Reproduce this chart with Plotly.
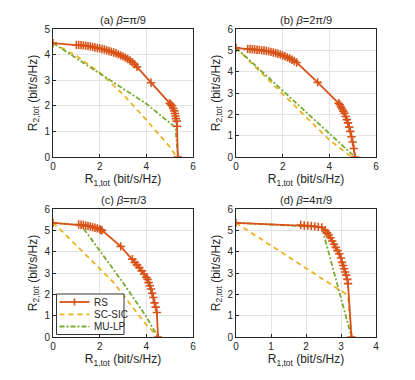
import plotly.graph_objects as go

# ---- data ----
titles = ["(a) <i>β</i>=π/9", "(b) <i>β</i>=2π/9", "(c) <i>β</i>=π/3", "(d) <i>β</i>=4π/9"]
x_max = [6, 6, 6, 4]
y_max = [5, 6, 6, 6]
legend_names = ["RS", "SC-SIC", "MU-LP"]

rs_x_a = [0, 1.0, 1.1, 1.2, 1.3, 1.4, 1.5, 1.6, 1.7, 1.8, 1.9, 2.0, 2.1, 2.2, 2.3, 2.4, 2.5, 2.6, 2.7, 2.8,
          2.9, 3.0, 3.1, 3.2, 3.3, 3.4, 3.5, 3.6, 4.2, 5.0, 5.05, 5.1, 5.15, 5.2, 5.22, 5.25, 5.27, 5.3, 5.32, 5.35]
rs_y_a = [4.45, 4.38, 4.38, 4.37, 4.36, 4.35, 4.33, 4.32, 4.30, 4.28, 4.26, 4.24, 4.22, 4.20, 4.17, 4.14, 4.11,
          4.08, 4.05, 4.01, 3.97, 3.93, 3.88, 3.83, 3.77, 3.70, 3.62, 3.52, 2.9, 2.1, 2.05, 2.0, 1.9, 1.8, 1.7,
          1.6, 1.5, 1.4, 1.2, 0]
sc_x_a = [0, 1, 2, 3, 4, 5, 5.3]
sc_y_a = [4.45, 3.95, 3.3, 2.45, 1.45, 0.4, 0]
mu_x_a = [0, 2, 4, 5.25, 5.35]
mu_y_a = [4.45, 3.28, 2.08, 1.15, 0]

rs_x_b = [0, 0.5, 0.6, 0.7, 0.8, 0.9, 1.0, 1.1, 1.2, 1.3, 1.4, 1.5, 1.6, 1.7, 1.8, 1.9, 2.0, 2.1, 2.2, 2.3,
          2.4, 2.5, 2.6, 3.5, 4.4, 4.45, 4.5, 4.55, 4.6, 4.65, 4.7, 4.75, 4.8, 4.85, 4.9, 4.95, 5.0, 5.05, 5.1]
rs_y_b = [5.12, 5.07, 5.06, 5.05, 5.04, 5.03, 5.02, 5.0, 4.99, 4.97, 4.95, 4.93, 4.9, 4.87, 4.84, 4.8, 4.76,
          4.72, 4.67, 4.62, 4.56, 4.5, 4.43, 3.5, 2.52, 2.45, 2.35, 2.25, 2.15, 2.05, 1.9, 1.75, 1.6, 1.4, 1.2,
          0.95, 0.7, 0.4, 0]
sc_x_b = [0, 0.25, 2.0, 4.0, 4.9, 5.1]
sc_y_b = [5.12, 4.85, 2.92, 0.8, 0.05, 0]
mu_x_b = [0, 5.1]
mu_y_b = [5.12, 0]

rs_x_c = [0, 1.1, 1.2, 1.3, 1.4, 1.5, 1.6, 1.7, 1.8, 1.9, 2.0, 2.05, 2.1, 2.9, 3.4, 3.5, 3.6, 3.7, 3.8, 3.9,
          4.0, 4.05, 4.1, 4.15, 4.2, 4.25, 4.3, 4.35, 4.4, 4.45, 4.5]
rs_y_c = [5.35, 5.27, 5.26, 5.25, 5.23, 5.21, 5.18, 5.15, 5.12, 5.09, 5.05, 5.02, 5.0, 4.25, 3.65, 3.5, 3.38,
          3.25, 3.1, 2.95, 2.8, 2.7, 2.55, 2.4, 2.25, 2.05, 1.85, 1.6, 1.4, 1.15, 0]
sc_x_c = [0, 0.3, 1.5, 2.6, 3.9, 4.5]
sc_y_c = [5.35, 5.05, 3.75, 2.55, 0.7, 0]
mu_x_c = [0, 1.2, 2.0, 3.0, 4.0, 4.5]
mu_y_c = [5.35, 5.25, 4.05, 2.55, 0.95, 0]

rs_x_d = [0, 1.85, 1.95, 2.05, 2.15, 2.25, 2.35, 2.45, 2.55, 2.6, 2.65, 2.7, 2.75, 2.8, 2.85, 2.9, 2.95, 3.0,
          3.03, 3.06, 3.09, 3.12, 3.15, 3.18, 3.2, 3.3]
rs_y_d = [5.35, 5.25, 5.23, 5.22, 5.2, 5.18, 5.16, 5.14, 5.0, 4.88, 4.78, 4.65, 4.5, 4.35, 4.2, 4.05, 3.9, 3.7,
          3.5, 3.35, 3.2, 3.05, 2.9, 2.7, 2.5, 0]
sc_x_d = [0, 3.2, 3.3]
sc_y_d = [5.35, 1.95, 0]
mu_x_d = [0, 2.45, 3.3]
mu_y_d = [5.35, 5.15, 0]

rs = [(rs_x_a, rs_y_a), (rs_x_b, rs_y_b), (rs_x_c, rs_y_c), (rs_x_d, rs_y_d)]
sc = [(sc_x_a, sc_y_a), (sc_x_b, sc_y_b), (sc_x_c, sc_y_c), (sc_x_d, sc_y_d)]
mu = [(mu_x_a, mu_y_a), (mu_x_b, mu_y_b), (mu_x_c, mu_y_c), (mu_x_d, mu_y_d)]

RS_COL = "#D95319"
SC_COL = "#EDB120"
MU_COL = "#77AC30"
SC_DASH = "5px,4px"
MU_DASH = "5px,2px,2px,2px"

W, H = 415, 380
# panel pixel boxes (left, right, top, bottom)
boxes = [(53, 193, 29, 157), (236, 376, 29, 157), (53, 193, 209, 337), (236, 376, 209, 337)]

fig = go.Figure()
font = dict(family="Liberation Sans, Arial, sans-serif", size=10, color="#262626")

for i in range(4):
    xa = "x" if i == 0 else f"x{i+1}"
    ya = "y" if i == 0 else f"y{i+1}"
    fig.add_trace(go.Scatter(x=sc[i][0], y=sc[i][1], mode="lines", name="SC-SIC",
                             line=dict(color=SC_COL, width=1.8, dash=SC_DASH), xaxis=xa, yaxis=ya))
    fig.add_trace(go.Scatter(x=mu[i][0], y=mu[i][1], mode="lines", name="MU-LP",
                             line=dict(color=MU_COL, width=1.8, dash=MU_DASH), xaxis=xa, yaxis=ya))
    fig.add_trace(go.Scatter(x=rs[i][0], y=rs[i][1], mode="lines+markers", name="RS",
                             line=dict(color=RS_COL, width=1.8),
                             marker=dict(symbol="cross-thin", size=6, line=dict(color=RS_COL, width=1.6)),
                             xaxis=xa, yaxis=ya))

    l, r, t, b = boxes[i]
    ax_common = dict(showgrid=True, gridcolor="#e3e3e3", gridwidth=1, zeroline=False,
                     showline=True, linecolor="#262626", linewidth=1, mirror=True, automargin=False,
                     ticks="inside", ticklen=3, tickcolor="#262626", tickfont=font)
    fig.layout[f"xaxis{'' if i == 0 else i+1}"] = dict(
        ax_common, domain=[l / W, r / W], anchor=ya, range=[0, x_max[i]], dtick=2 if x_max[i] == 6 else 1,
        title=dict(text="R<sub>1,tot</sub> (bit/s/Hz)", font=dict(font, size=12), standoff=2))
    fig.layout[f"yaxis{'' if i == 0 else i+1}"] = dict(
        ax_common, domain=[1 - b / H, 1 - t / H], anchor=xa, range=[0, y_max[i]], dtick=1,
        title=dict(text="R<sub>2,tot</sub> (bit/s/Hz)", font=dict(font, size=12), standoff=4))
    fig.add_annotation(text=titles[i], xref="paper", yref="paper", x=(l + r) / 2 / W, y=1 - t / H,
                       xanchor="center", yanchor="bottom", yshift=1, showarrow=False,
                       font=dict(font, size=11))

# legend box drawn inside panel (c), MATLAB style
px = lambda v: v / W
py = lambda v: 1 - v / H
fig.add_shape(type="rect", xref="paper", yref="paper", x0=px(56.5), x1=px(124), y0=py(294), y1=py(334.5),
              fillcolor="white", line=dict(color="#333333", width=1), layer="above")
leg_y = [302, 314.3, 326.5]
leg_style = [(RS_COL, "solid"), (SC_COL, SC_DASH), (MU_COL, MU_DASH)]
for name, yy, (col, dash) in zip(legend_names, leg_y, leg_style):
    fig.add_shape(type="line", xref="paper", yref="paper", x0=px(59.5), x1=px(89.5), y0=py(yy), y1=py(yy),
                  line=dict(color=col, width=1.8, dash=dash), layer="above")
    fig.add_annotation(text=name, xref="paper", yref="paper", x=px(91.5), y=py(yy), xanchor="left",
                       yanchor="middle", showarrow=False, font=dict(font, size=10))
# the '+' marker of the RS entry
fig.add_shape(type="line", xref="paper", yref="paper", x0=px(74.5), x1=px(74.5), y0=py(298.5), y1=py(305.5),
              line=dict(color=RS_COL, width=1.6), layer="above")

fig.update_layout(
    width=W, height=H, margin=dict(l=0, r=0, t=0, b=0), showlegend=False,
    paper_bgcolor="white", plot_bgcolor="white", font=font,
)

fig.write_html("out.html", config={"displayModeBar": False},
               post_script="document.body.style.margin='0';")
